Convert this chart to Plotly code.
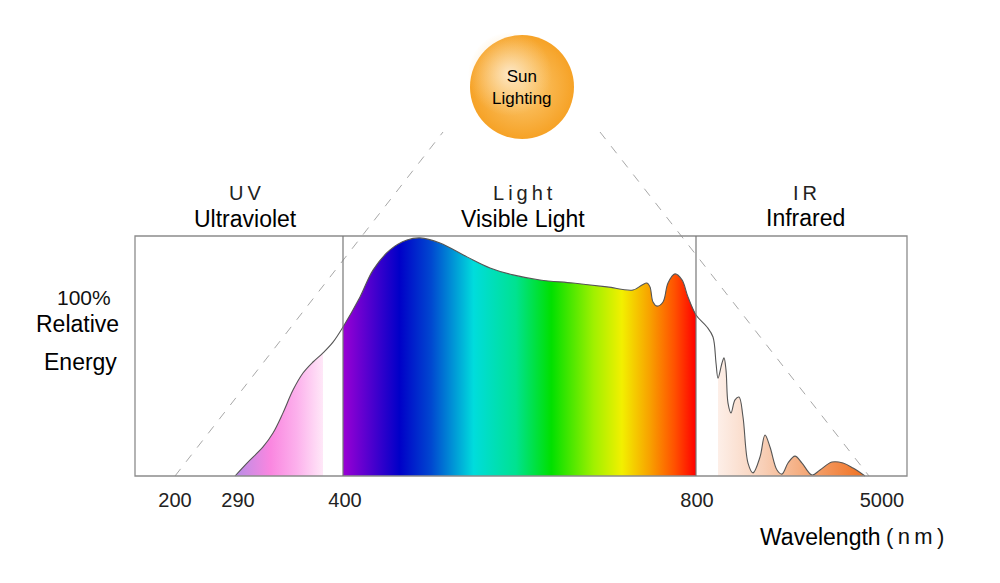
import plotly.graph_objects as go

# schematic wavelength axis (not to scale): labels and where they sit
tick_pos = [175, 238, 345, 697, 882]
tick_text = ["200", "290", "400", "800", "5000"]
band_edges = [343, 696]  # 400 nm and 800 nm dividers

# relative energy curve (1.0 = top of the frame)
uv_x = [235, 247, 263, 273, 283, 293, 303, 313, 323, 333, 343]
uv_y = [0, 0.054, 0.121, 0.179, 0.263, 0.358, 0.429, 0.475, 0.513, 0.558, 0.621]

vis_x = [343, 360, 373, 390, 407, 420, 440, 467, 490, 513, 540, 573, 607,
         633, 642, 647, 650, 653, 657, 663, 668, 675, 682, 688, 696]
vis_y = [0.621, 0.746, 0.858, 0.942, 0.983, 0.992, 0.971, 0.913, 0.867,
         0.838, 0.817, 0.804, 0.788, 0.775, 0.796, 0.804, 0.788, 0.725, 0.708,
         0.725, 0.804, 0.842, 0.817, 0.746, 0.671]

ir_x = [696, 707, 713, 716, 718, 722, 724, 726, 728, 731, 735, 739, 743, 748,
        753, 760, 765, 770, 777, 782, 788, 795, 802, 812, 820, 832, 843, 853, 865]
ir_y = [0.671, 0.621, 0.579, 0.471, 0.408, 0.471, 0.492, 0.442, 0.304, 0.263,
        0.317, 0.329, 0.246, 0.054, 0.013, 0.079, 0.171, 0.121, 0.025, 0.008,
        0.054, 0.083, 0.054, 0.004, 0.025, 0.058, 0.054, 0.033, 0]

uv_fill_end = 323
ir_fill_start = 718

W, H = 1000, 583
BASE, TOP = 476, 236  # pixel rows of 0 and 1.0 energy


def ey(py):
    return (BASE - py) / (BASE - TOP)


FONT = "Liberation Sans, Arial, sans-serif"
INK = "#111111"
TS = "\u2009"  # thin space, used for the letter-spaced labels

fig = go.Figure()

# coloured fills under the curve
uvf = [(x, y) for x, y in zip(uv_x, uv_y) if x <= uv_fill_end]
fig.add_trace(go.Scatter(
    x=[p[0] for p in uvf], y=[p[1] for p in uvf], mode="lines",
    line=dict(width=0, shape="spline"), fill="tozeroy",
    fillgradient=dict(type="horizontal",
                      colorscale=[[0, "#b78ee6"], [0.4, "#fa86e0"],
                                  [0.7, "#fcb0ec"], [1, "#ffe8f8"]]),
    hoverinfo="skip", showlegend=False))

fig.add_trace(go.Scatter(
    x=vis_x, y=vis_y, mode="lines",
    line=dict(width=0, shape="spline"), fill="tozeroy",
    fillgradient=dict(type="horizontal",
                      colorscale=[[0, "#9a00d4"], [0.16, "#0000c8"],
                                  [0.25, "#0048d0"], [0.37, "#00dcdc"],
                                  [0.49, "#00e290"], [0.59, "#00e000"],
                                  [0.71, "#a0f000"], [0.79, "#f2f000"],
                                  [0.87, "#f8a000"], [0.94, "#ff5000"],
                                  [1, "#ff0000"]]),
    hoverinfo="skip", showlegend=False))

irf = [(x, y) for x, y in zip(ir_x, ir_y) if x >= ir_fill_start]
fig.add_trace(go.Scatter(
    x=[p[0] for p in irf], y=[p[1] for p in irf], mode="lines",
    line=dict(width=0, shape="spline"), fill="tozeroy",
    fillgradient=dict(type="horizontal",
                      colorscale=[[0, "#fdefe8"], [0.3, "#f8d0b8"],
                                  [0.6, "#f4a878"], [1, "#f07020"]]),
    hoverinfo="skip", showlegend=False))

# outline of the whole spectrum
curve_x = uv_x + vis_x[1:] + ir_x[1:]
curve_y = uv_y + vis_y[1:] + ir_y[1:]
fig.add_trace(go.Scatter(
    x=curve_x, y=curve_y, mode="lines",
    line=dict(color="#555555", width=1.1, shape="spline"),
    hoverinfo="skip", showlegend=False))

# sun
fig.add_trace(go.Scatter(
    x=[522], y=[ey(87)], mode="markers",
    marker=dict(size=104, color="#f6a226", line=dict(width=0),
                gradient=dict(type="radial", color="#fccc78")),
    hoverinfo="skip", showlegend=False))
fig.add_trace(go.Scatter(
    x=[510], y=[ey(74)], mode="markers",
    marker=dict(size=84, color="rgba(252,214,150,0)", line=dict(width=0),
                gradient=dict(type="radial", color="#fde8c8")),
    hoverinfo="skip", showlegend=False))

shapes = [
    dict(type="line", x0=175, y0=0, x1=443, y1=ey(132),
         line=dict(color="#a8a8a8", width=1, dash="dash"), layer="below"),
    dict(type="line", x0=600, y0=ey(132), x1=869, y1=0,
         line=dict(color="#a8a8a8", width=1, dash="dash"), layer="below"),
    dict(type="rect", x0=135, x1=907, y0=0, y1=1,
         line=dict(color="#8c8c8c", width=1.3), layer="above"),
]
for xe in band_edges:
    shapes.append(dict(type="line", x0=xe, x1=xe, y0=0, y1=1,
                       line=dict(color="#777777", width=1.2), layer="above"))


def label(x, py, text, size, anchor="center", color=INK):
    return dict(x=x, y=ey(py), text=text, showarrow=False, xanchor=anchor,
                yanchor="middle", font=dict(family=FONT, size=size, color=color))


annotations = [
    label(245, 193, TS.join("UV"), 20, color="#222222"),
    label(245, 219, "Ultraviolet", 23, color="#000000"),
    label(523, 193, TS.join("Light"), 20, color="#222222"),
    label(523, 219, "Visible Light", 23, color="#000000"),
    label(805, 193, TS.join("IR"), 20, color="#222222"),
    label(805, 218, "Infrared", 23, color="#000000"),
    label(113, 297, "100%", 21, "right"),
    label(121, 324, "Relative", 23, "right", "#000000"),
    label(119, 362, "Energy", 23, "right", "#000000"),
    label(883, 537, "Wavelength", 23, "right", "#000000"),
    label(884, 536, TS.join("(nm)"), 22, "left"),
    label(522, 87, "Sun<br>Lighting", 17, color="#000000"),
]

fig.update_layout(
    width=W, height=H,
    margin=dict(l=0, r=0, t=0, b=0),
    paper_bgcolor="white", plot_bgcolor="white",
    shapes=shapes, annotations=annotations,
    xaxis=dict(range=[0, W], anchor="free", position=1 - BASE / H,
               tickvals=tick_pos, ticktext=tick_text, ticks="",
               ticklabelstandoff=10, showgrid=False, zeroline=False,
               showline=False, fixedrange=True,
               tickfont=dict(family=FONT, size=20, color="#222222")),
    yaxis=dict(range=[ey(H), ey(0)], visible=False, fixedrange=True),
    showlegend=False,
)

fig.write_html("out.html", config={"displayModeBar": False},
               post_script="document.body.style.margin='0px';")
